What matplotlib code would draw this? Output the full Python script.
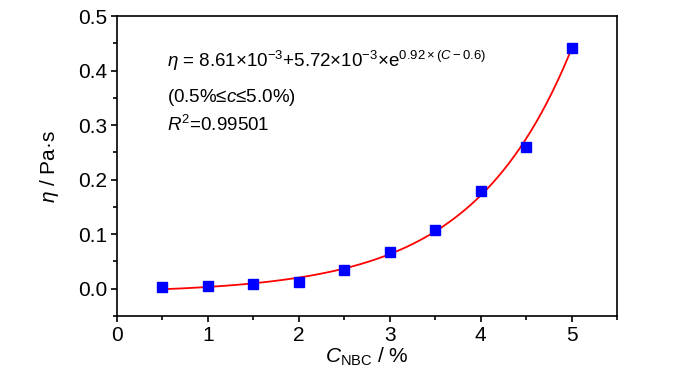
import numpy as np
import matplotlib
matplotlib.use("Agg")
import matplotlib.pyplot as plt
from matplotlib.ticker import MultipleLocator

plt.rcParams['font.family'] = ['Liberation Sans', 'DejaVu Sans']
plt.rcParams['mathtext.fontset'] = 'custom'
plt.rcParams['mathtext.rm'] = 'Liberation Sans'
plt.rcParams['mathtext.it'] = 'Liberation Sans:italic'
plt.rcParams['mathtext.bf'] = 'Liberation Sans:bold'

# data
conc = [0.5, 1.0, 1.5, 2.0, 2.5, 3.0, 3.5, 4.0, 4.5, 5.0]
visc = [0.003, 0.0055, 0.009, 0.013, 0.0335, 0.067, 0.107, 0.180, 0.260, 0.441]
# fitted curve parameters y = a + b*exp(k*x)
fit_a, fit_b, fit_k = -0.0082, 0.00457, 0.917
fit_range = (0.5, 5.0)

fig = plt.figure(figsize=(7.0, 3.74), dpi=100)
ax = fig.add_axes([0.1671, 0.1551, 0.7143, 0.8021])

xf = np.linspace(fit_range[0], fit_range[1], 300)
yf = fit_a + fit_b * np.exp(fit_k * xf)
ax.plot(xf, yf, color='red', lw=1.3, zorder=2)
ax.plot(conc, visc, ls='none', marker='s', ms=7, mfc='#0000ff', mec='#0000ff', zorder=3)

ax.set_xlim(0, 5.5)
ax.set_ylim(-0.05, 0.5)
ax.xaxis.set_major_locator(MultipleLocator(1))
ax.xaxis.set_minor_locator(MultipleLocator(0.5))
ax.yaxis.set_major_locator(MultipleLocator(0.1))
ax.yaxis.set_minor_locator(MultipleLocator(0.05))
ax.yaxis.set_major_formatter(matplotlib.ticker.FormatStrFormatter('%.1f'))
ax.xaxis.set_major_formatter(matplotlib.ticker.FormatStrFormatter('%d'))

for s in ax.spines.values():
    s.set_linewidth(1.2)
ax.tick_params(which='major', direction='out', length=4, width=1.2, labelsize=15, pad=3)
ax.tick_params(which='minor', direction='out', length=3, width=1.2)

ax.set_xlabel(r'$\mathit{C}_{\mathrm{NBC}}$ / %', fontsize=15, labelpad=1)
ax.set_ylabel(r'$\eta$ / Pa·s', fontsize=15, labelpad=12)

ax.text(0.1, 0.85, r'$\eta$ = 8.61×10$^{-3}$+5.72×10$^{-3}$×e$^{0.92\times(\mathit{C}-0.6)}$',
        transform=ax.transAxes, fontsize=13.5, va='center', ha='left')
ax.text(0.1, 0.73, r'(0.5%≤$\mathit{c}$≤5.0%)', transform=ax.transAxes, fontsize=13.5,
        va='center', ha='left')
ax.text(0.1, 0.637, r'$\mathit{R}^2$=0.99501', transform=ax.transAxes, fontsize=13.5,
        va='center', ha='left')

fig.savefig('out.png', dpi=100)
